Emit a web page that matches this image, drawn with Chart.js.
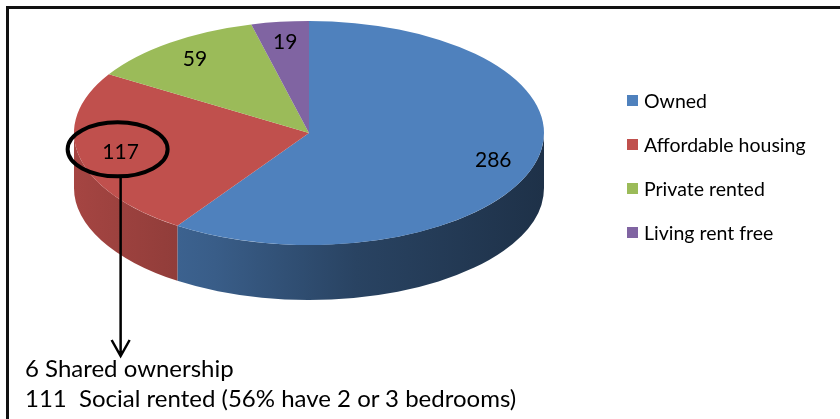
<!DOCTYPE html>
<html>
<head>
<meta charset="utf-8">
<script src="https://cdn.jsdelivr.net/npm/chart.js@4.4.1/dist/chart.umd.min.js"></script>
<style>
  body { margin: 0; background: #fff; }
  #wrap { position: relative; width: 840px; height: 419px; overflow: hidden; font-family: Lato, sans-serif; color: #000; }
  #frame { position: absolute; left: 6px; top: 6px; width: 900px; height: 500px; border-left: 3px solid #111; border-top: 3px solid #111; }
  #dash { position: absolute; left: 0; top: 0; }
  #legenda { position: absolute; left: 627px; top: 78px; }
  .item { height: 44px; display: flex; align-items: center; font-size: 19.5px; white-space: nowrap; }
  .box { width: 11px; height: 11px; margin-right: 6px; }
  #nota { position: absolute; left: 25px; top: 353px; font-size: 24px; line-height: 30px; white-space: pre; }
</style>
</head>
<body>
<div id="wrap">
  <div id="frame"></div>
  <canvas id="dash" width="840" height="419"></canvas>
  <div id="legenda"></div>
  <div id="nota"></div>
</div>
<script>
const categories = ['Owned', 'Affordable housing', 'Private rented', 'Living rent free'];
const households = [286, 117, 59, 19];
const sliceColours = ['#4F81BD', '#C0504D', '#9BBB59', '#8064A2'];
const noteLines = ['6 Shared ownership', '111  Social rented (56% have 2 or 3 bedrooms)'];
const circledSlice = 1; // the 117 that the note explains

// look of the fake 3d pie
const stretchX = 235 / 112;
const depth = 55;
const labelPos = 0.82;

function shade(hex, f) {
  const n = parseInt(hex.slice(1), 16);
  const r = Math.round(((n >> 16) & 255) * f);
  const g = Math.round(((n >> 8) & 255) * f);
  const b = Math.round((n & 255) * f);
  return `rgb(${r},${g},${b})`;
}

const pie3d = {
  id: 'pie3d',
  beforeDatasetsDraw(chart) {
    const {ctx} = chart;
    const meta = chart.getDatasetMeta(0);
    const cx = meta.data[0].x, cy = meta.data[0].y, r = meta.data[0].outerRadius;
    ctx.save();
    ctx.translate(cx, cy);
    ctx.scale(stretchX, 1);
    ctx.translate(-cx, -cy);

    // side wall, only the front half shows
    meta.data.forEach((arc, i) => {
      const a1 = Math.max(arc.startAngle, 0);
      const a2 = Math.min(arc.endAngle, Math.PI);
      if (a1 >= a2) return;
      const grad = ctx.createLinearGradient(cx - r, 0, cx + r, 0);
      grad.addColorStop(0, shade(sliceColours[i], 0.86));
      grad.addColorStop(0.3, shade(sliceColours[i], 0.72));
      grad.addColorStop(0.6, shade(sliceColours[i], 0.52));
      grad.addColorStop(1, shade(sliceColours[i], 0.38));
      ctx.beginPath();
      ctx.arc(cx, cy, r, a1, a2);
      ctx.arc(cx, cy + depth, r, a2, a1, true);
      ctx.closePath();
      ctx.fillStyle = grad;
      ctx.fill();
    });
  },
  afterDatasetsDraw(chart) {
    const {ctx} = chart;
    ctx.restore();
    const meta = chart.getDatasetMeta(0);
    ctx.save();
    ctx.font = '21px Lato';
    ctx.fillStyle = '#000';
    ctx.textAlign = 'center';
    ctx.textBaseline = 'middle';
    meta.data.forEach((arc, i) => {
      const mid = (arc.startAngle + arc.endAngle) / 2;
      const x = arc.x + Math.cos(mid) * arc.outerRadius * labelPos * stretchX;
      const y = arc.y + Math.sin(mid) * arc.outerRadius * labelPos;
      ctx.fillText(households[i], x, y);

      if (i == circledSlice) {
        // ring round the label and arrow down to the note
        ctx.strokeStyle = '#000';
        ctx.lineWidth = 4;
        ctx.beginPath();
        ctx.ellipse(x - 3, y - 3, 50, 27, 0, 0, Math.PI * 2);
        ctx.stroke();
        ctx.lineWidth = 2.5;
        ctx.beginPath();
        ctx.moveTo(x, y + 24);
        ctx.lineTo(x, 356);
        ctx.moveTo(x - 9, 340);
        ctx.lineTo(x, 356);
        ctx.lineTo(x + 9, 340);
        ctx.stroke();
      }
    });
    ctx.restore();
  }
};

const dash = document.getElementById('dash');
const myChart = new Chart(dash, {
  type: 'pie',
  data: {
    labels: categories,
    datasets: [{
      data: households,
      backgroundColor: sliceColours,
      borderWidth: 0,
      clip: false
    }]
  },
  options: {
    responsive: false,
    animation: false,
    events: [],
    layout: {
      padding: { left: 74, right: 296, top: 21, bottom: 174 }
    },
    plugins: {
      legend: { display: false },
      tooltip: { enabled: false }
    }
  },
  plugins: [pie3d]
});

const legenda = document.getElementById('legenda');
categories.forEach((nome, i) => {
  const item = document.createElement('div');
  item.className = 'item';
  item.innerHTML = `<span class="box" style="background:${sliceColours[i]}"></span><span>${nome}</span>`;
  legenda.appendChild(item);
});
document.getElementById('nota').textContent = noteLines.join('\n');
</script>
</body>
</html>
